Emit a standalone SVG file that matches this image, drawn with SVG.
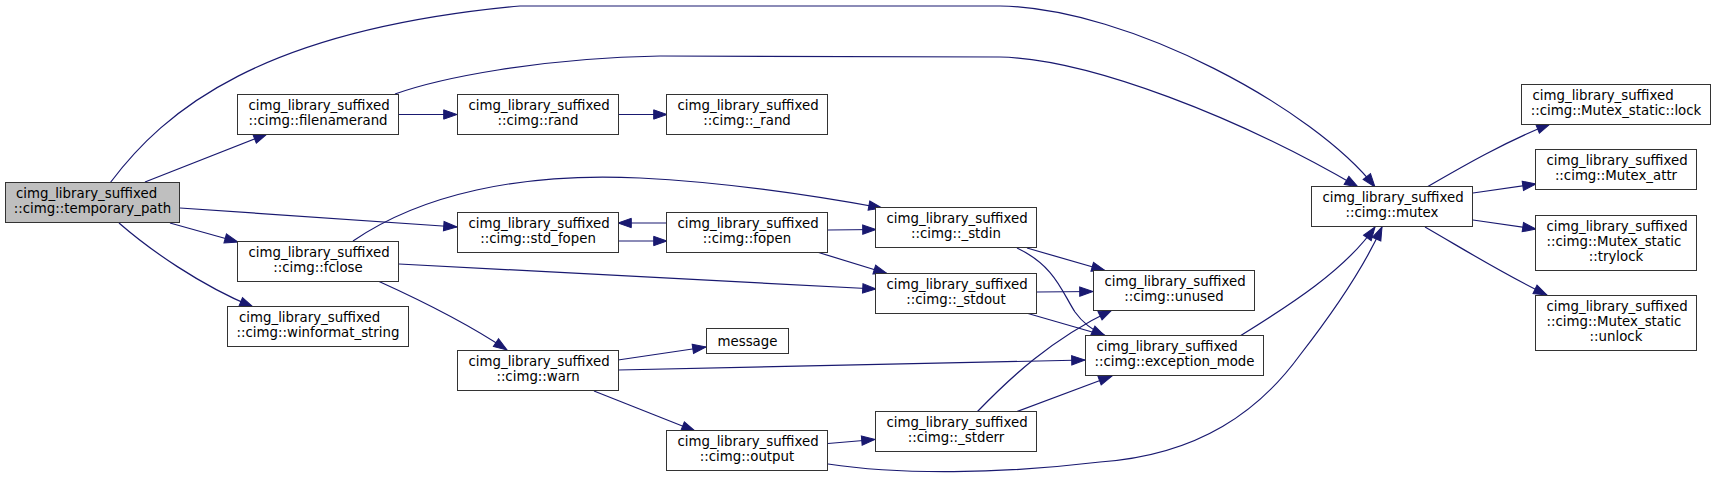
<svg xmlns="http://www.w3.org/2000/svg" width="1716" height="478" viewBox="0 0 1716 478">
<style>
.n rect{fill:#ffffff;stroke:#333333;stroke-width:1}
.n.root rect{fill:#bfbfbf}
.n text{font-family:"DejaVu Sans","Liberation Sans",sans-serif;font-size:13.33px;fill:#000000}
.m{text-anchor:middle}
.e path{fill:none;stroke:#191970;stroke-width:1.2;marker-end:url(#arr)}
</style>
<defs>
<marker id="arr" markerUnits="userSpaceOnUse" markerWidth="16" markerHeight="12" refX="13.3" refY="4.67" orient="auto" overflow="visible">
<path d="M0,0 L13.3,4.67 L0,9.33 Z" fill="#191970" stroke="#191970" stroke-width="1"/>
</marker>
</defs>
<rect width="1716" height="478" fill="#ffffff"/>
<g id="edges" class="e">
<path d="M110,183 C165,110 260,30 520,6 L1000,6 C1130,8 1315,110 1375,187"/>
<path d="M395,94 C440,78 540,58 660,56 L1000,57 C1090,59 1240,118 1358,187"/>
<path d="M145,182 L267,134"/>
<path d="M399,114.5 L457,114.5"/>
<path d="M618,114.5 L667,114.5"/>
<path d="M180,208 L457,227"/>
<path d="M170,223 L238,242"/>
<path d="M119,223 C150,250 200,285 253,307"/>
<path d="M353,241 C420,195 520,172 640,178 C720,182 800,193 882,208"/>
<path d="M399,264 L876,289"/>
<path d="M378,281 C420,300 470,325 507,350"/>
<path d="M618,241 L667,241"/>
<path d="M667,223 L618,223"/>
<path d="M828,230 L876,229.5"/>
<path d="M817,252 L887,273.5"/>
<path d="M1027,248 L1105,270.5"/>
<path d="M1017,248 C1055,266 1062,292 1075,312 C1082,322 1092,330 1105,336"/>
<path d="M1037,292 L1093,291.5"/>
<path d="M1028,313.5 L1106,336"/>
<path d="M618,360 L706,347"/>
<path d="M618,370 L1085,360"/>
<path d="M594,391 L695,431"/>
<path d="M828,443.5 L875,439.5"/>
<path d="M828,464 C900,475 1000,474 1100,462 C1200,455 1260,410 1300,355 C1335,310 1365,265 1382,227"/>
<path d="M977,412 C1010,378 1050,340 1112,310"/>
<path d="M1016,412 L1112,376"/>
<path d="M1240,336 C1290,305 1345,270 1375,227"/>
<path d="M1427,187 C1465,165 1505,142 1550,124"/>
<path d="M1473,193 L1536,184"/>
<path d="M1473,220 L1536,229"/>
<path d="M1425,227 C1465,250 1505,275 1547,295"/>
</g>
<g id="temporary_path" class="n root"><rect x="5.5" y="182.5" width="174" height="40"/><text x="16" y="198">cimg_library_suffixed</text><text class="m" x="92.5" y="213">::cimg::temporary_path</text></g>
<g id="filenamerand" class="n"><rect x="237.5" y="94.5" width="161" height="40"/><text x="248.5" y="110">cimg_library_suffixed</text><text class="m" x="318" y="125">::cimg::filenamerand</text></g>
<g id="fclose" class="n"><rect x="237.5" y="241.5" width="161" height="40"/><text x="248.5" y="257">cimg_library_suffixed</text><text class="m" x="318" y="272">::cimg::fclose</text></g>
<g id="winformat_string" class="n"><rect x="227.5" y="306.5" width="181" height="40"/><text x="239" y="322">cimg_library_suffixed</text><text class="m" x="318" y="337">::cimg::winformat_string</text></g>
<g id="rand" class="n"><rect x="457.5" y="94.5" width="161" height="40"/><text x="468.5" y="110">cimg_library_suffixed</text><text class="m" x="538" y="125">::cimg::rand</text></g>
<g id="_rand" class="n"><rect x="666.5" y="94.5" width="161" height="40"/><text x="677.5" y="110">cimg_library_suffixed</text><text class="m" x="747" y="125">::cimg::_rand</text></g>
<g id="std_fopen" class="n"><rect x="457.5" y="212.5" width="161" height="40"/><text x="468.5" y="228">cimg_library_suffixed</text><text class="m" x="538" y="243">::cimg::std_fopen</text></g>
<g id="fopen" class="n"><rect x="666.5" y="212.5" width="161" height="40"/><text x="677.5" y="228">cimg_library_suffixed</text><text class="m" x="747" y="243">::cimg::fopen</text></g>
<g id="warn" class="n"><rect x="457.5" y="350.5" width="161" height="40"/><text x="468.5" y="366">cimg_library_suffixed</text><text class="m" x="538" y="381">::cimg::warn</text></g>
<g id="message" class="n"><rect x="706.5" y="328.5" width="82" height="25"/><text class="m" x="747.5" y="346">message</text></g>
<g id="output" class="n"><rect x="666.5" y="430.5" width="161" height="40"/><text x="677.5" y="446">cimg_library_suffixed</text><text class="m" x="747" y="461">::cimg::output</text></g>
<g id="_stdin" class="n"><rect x="875.5" y="207.5" width="161" height="40"/><text x="886.5" y="223">cimg_library_suffixed</text><text class="m" x="956" y="238">::cimg::_stdin</text></g>
<g id="_stdout" class="n"><rect x="875.5" y="273.5" width="161" height="40"/><text x="886.5" y="289">cimg_library_suffixed</text><text class="m" x="956" y="304">::cimg::_stdout</text></g>
<g id="_stderr" class="n"><rect x="875.5" y="411.5" width="161" height="40"/><text x="886.5" y="427">cimg_library_suffixed</text><text class="m" x="956" y="442">::cimg::_stderr</text></g>
<g id="unused" class="n"><rect x="1093.5" y="270.5" width="161" height="40"/><text x="1104.5" y="286">cimg_library_suffixed</text><text class="m" x="1174" y="301">::cimg::unused</text></g>
<g id="exception_mode" class="n"><rect x="1085.5" y="335.5" width="178" height="40"/><text x="1096.5" y="351">cimg_library_suffixed</text><text class="m" x="1174.5" y="366">::cimg::exception_mode</text></g>
<g id="mutex" class="n"><rect x="1311.5" y="186.5" width="161" height="40"/><text x="1322.5" y="202">cimg_library_suffixed</text><text class="m" x="1392" y="217">::cimg::mutex</text></g>
<g id="Mutex_static_lock" class="n"><rect x="1521.5" y="84.5" width="189" height="40"/><text x="1532.5" y="100">cimg_library_suffixed</text><text class="m" x="1616" y="115">::cimg::Mutex_static::lock</text></g>
<g id="Mutex_attr" class="n"><rect x="1535.5" y="149.5" width="161" height="40"/><text x="1546.5" y="165">cimg_library_suffixed</text><text class="m" x="1616" y="180">::cimg::Mutex_attr</text></g>
<g id="Mutex_static_trylock" class="n"><rect x="1535.5" y="215.5" width="161" height="55"/><text x="1546.5" y="231">cimg_library_suffixed</text><text x="1546.5" y="246">::cimg::Mutex_static</text><text class="m" x="1616" y="261">::trylock</text></g>
<g id="Mutex_static_unlock" class="n"><rect x="1535.5" y="295.5" width="161" height="55"/><text x="1546.5" y="311">cimg_library_suffixed</text><text x="1546.5" y="326">::cimg::Mutex_static</text><text class="m" x="1616" y="341">::unlock</text></g>
</svg>
